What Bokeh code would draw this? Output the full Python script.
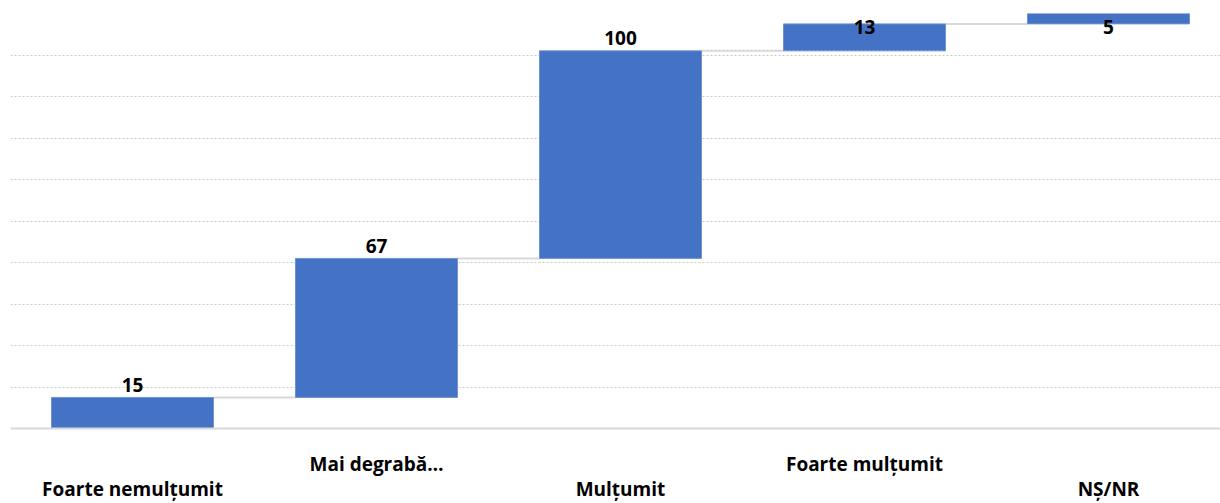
import numpy as np
from bokeh.plotting import figure
from bokeh.models import Range1d, FixedTicker, ColumnDataSource, LabelSet, Span
from bokeh.core.properties import value
from bokeh.embed import file_html
from bokeh.resources import INLINE

categories = ["Foarte nemulțumit", "Mai degrabă…", "Mulțumit", "Foarte mulțumit", "NȘ/NR"]
values = [15, 67, 100, 13, 5]

tops = np.cumsum(values)
bottoms = tops - np.array(values)
xs = np.arange(len(categories))

BAR_W = 0.664
FONT = "Open Sans"

p = figure(width=1220, height=503, output_backend="svg", toolbar_location=None,
           x_range=Range1d(-0.5, 4.459), y_range=Range1d(-36.1, 200),
           min_border_left=10, min_border_right=0, min_border_top=13, min_border_bottom=0)
p.outline_line_color = None
p.xaxis.visible = False
p.yaxis.visible = False
p.xgrid.grid_line_color = None
p.ygrid.ticker = FixedTicker(ticks=list(range(20, 201, 20)))
p.ygrid.grid_line_color = "#c8c8c8"
p.ygrid.grid_line_dash = "2 2"
p.ygrid.grid_line_width = 1

# baseline
p.add_layout(Span(location=0, dimension="width", line_color="#d9d9d9", line_width=2))

# connectors
cx0 = xs[:-1] + BAR_W / 2
cx1 = xs[1:] - BAR_W / 2
p.segment(x0=cx0, y0=tops[:-1], x1=cx1, y1=tops[:-1], line_color="#d9d9d9", line_width=2)

# bars
src = ColumnDataSource(dict(x=xs, top=tops, bottom=bottoms))
p.vbar(x="x", width=BAR_W, top="top", bottom="bottom", source=src,
       fill_color="#4472C4", line_color="#6f92d3", line_width=1)

# value labels
lab_y = np.minimum(tops + 6, 193.3)
vsrc = ColumnDataSource(dict(x=xs, y=lab_y, t=[str(v) for v in values]))
p.add_layout(LabelSet(x="x", y="y", text="t", source=vsrc, text_align="center",
                      text_baseline="middle", text_font=value(FONT),
                      text_font_style="bold", text_font_size="19px", text_color="#000000"))

# staggered category labels
cat_y = [-29.2 if i % 2 == 0 else -16.9 for i in range(len(categories))]
csrc = ColumnDataSource(dict(x=xs, y=cat_y, t=categories))
p.add_layout(LabelSet(x="x", y="y", text="t", source=csrc, text_align="center",
                      text_baseline="middle", text_font=value(FONT),
                      text_font_style="bold", text_font_size="19px", text_color="#000000"))

open("out.html", "w").write(file_html(p, INLINE))
